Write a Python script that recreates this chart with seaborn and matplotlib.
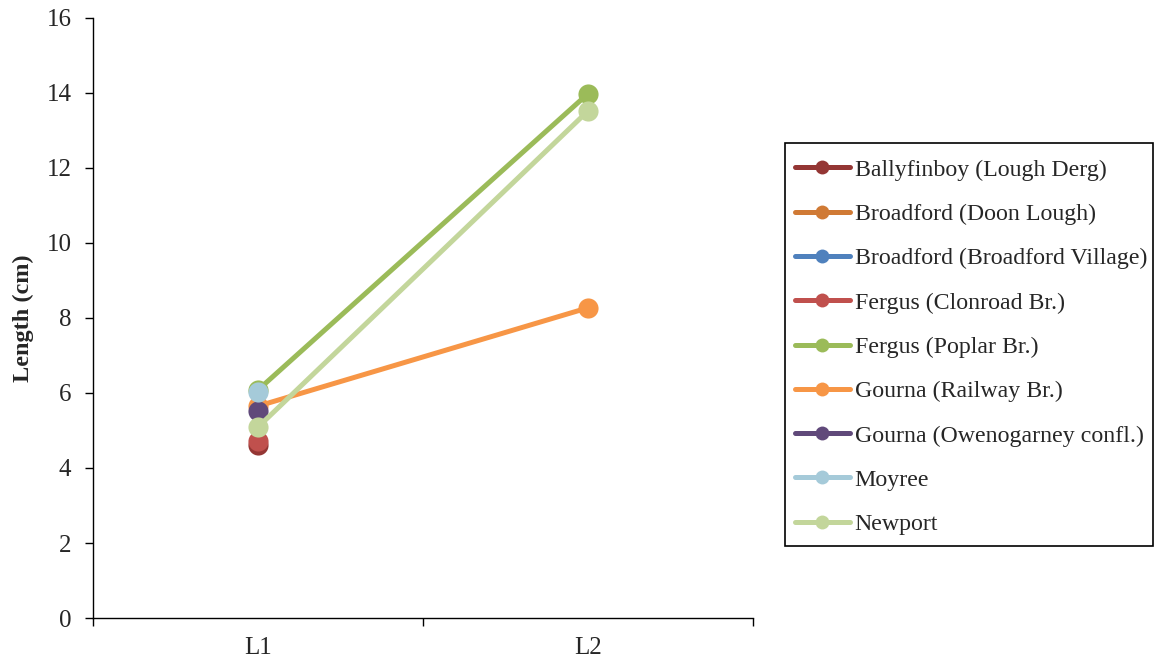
import numpy as np
import pandas as pd
import matplotlib
matplotlib.use("Agg")
import matplotlib.pyplot as plt
import seaborn as sns
from matplotlib.lines import Line2D
from matplotlib.patches import Rectangle

categories = ["L1", "L2"]
sites = [
    "Ballyfinboy (Lough Derg)",
    "Broadford (Doon Lough)",
    "Broadford (Broadford Village)",
    "Fergus (Clonroad Br.)",
    "Fergus (Poplar Br.)",
    "Gourna (Railway Br.)",
    "Gourna (Owenogarney confl.)",
    "Moyree",
    "Newport",
]
ballyfinboy = [4.62, np.nan]
broadford_doon = [np.nan, np.nan]
broadford_village = [np.nan, np.nan]
fergus_clonroad = [4.72, np.nan]
fergus_poplar = [6.08, 13.98]
gourna_railway = [5.65, 8.27]
gourna_owenogarney = [5.52, np.nan]
moyree = [6.03, np.nan]
newport = [5.09, 13.52]
series = [ballyfinboy, broadford_doon, broadford_village, fergus_clonroad,
          fergus_poplar, gourna_railway, gourna_owenogarney, moyree, newport]
colors = ["#943634", "#D07A35", "#4F81BD", "#C0504D", "#9BBB59",
          "#F79646", "#60497A", "#A5CAD9", "#C3D69B"]

rows = []
for s, vals in zip(sites, series):
    for c, v in zip(categories, vals):
        rows.append({"site": s, "stage": c, "pos": categories.index(c), "length": v})
df = pd.DataFrame(rows)

sns.set_style("white")
plt.rcParams["font.family"] = ["Liberation Serif", "DejaVu Serif"]

fig = plt.figure(figsize=(11.55, 6.61), dpi=100)
ax = fig.add_axes([0.0805, 0.065, 0.5715, 0.908])

for i, (s, col) in enumerate(zip(sites, colors)):
    sub = df[df["site"] == s].dropna()
    if len(sub) == 0:
        continue
    sns.lineplot(data=sub, x="pos", y="length", color=col, marker="o",
                 markersize=14.5, markeredgewidth=0, linewidth=3.6,
                 ax=ax, legend=False, zorder=2 + i)

ax.set_xlim(-0.5, 1.5)
ax.set_ylim(0, 16)
ax.set_yticks(np.arange(0, 17, 2))
ax.set_xticks([0, 1])
ax.set_xticklabels(categories)
ax.set_xticks([-0.5, 0.5, 1.5], minor=True)
ax.tick_params(axis="x", which="major", bottom=False, length=0, labelsize=18, pad=14)
ax.tick_params(axis="x", which="minor", bottom=True, length=5.5, width=1,
               color="black", direction="out")
ax.tick_params(axis="y", left=True, length=5.5, width=1, color="black",
               direction="out", labelsize=18, pad=10)
ax.set_xlabel("")
ax.set_ylabel("Length (cm)", fontsize=17.5, fontweight="bold", labelpad=9)
for sp in ["top", "right"]:
    ax.spines[sp].set_visible(False)
for sp in ["left", "bottom"]:
    ax.spines[sp].set_color("black")
    ax.spines[sp].set_linewidth(1)

handles = [Line2D([0], [0], color=c, lw=3.6, marker="o", markersize=10, markeredgewidth=0)
           for c in colors]
leg = fig.legend(handles, sites, loc="upper left", bbox_to_anchor=(795 / 1155, 1 - 159 / 661),
                 fontsize=17.2, frameon=False,
                 handlelength=2.3, handletextpad=0.2, labelspacing=0.945,
                 borderpad=0, borderaxespad=0)
fig.add_artist(Rectangle((785 / 1155, 1 - 546 / 661), 368 / 1155, 403 / 661,
                         transform=fig.transFigure, fill=False,
                         edgecolor="black", linewidth=1.2))

fig.savefig("out.png", dpi=100)
